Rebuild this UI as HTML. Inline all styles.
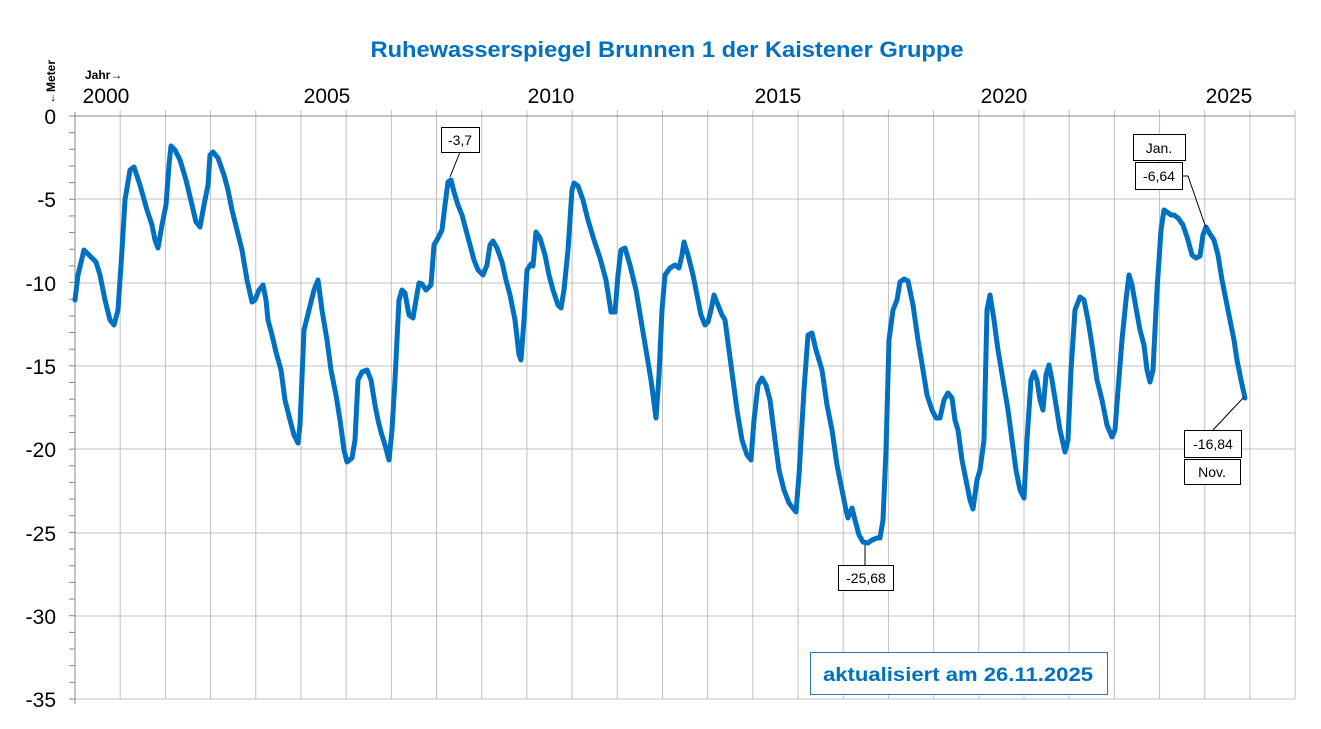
<!DOCTYPE html>
<html><head><meta charset="utf-8"><style>body{margin:0;background:#fff}svg{display:block}</style></head><body>
<svg width="1321" height="729" xmlns="http://www.w3.org/2000/svg" font-family="Liberation Sans, sans-serif">
<rect width="1321" height="729" fill="#fff"/>
<text x="667" y="57" text-anchor="middle" font-size="22" font-weight="bold" fill="#0070C0" textLength="593" lengthAdjust="spacingAndGlyphs">Ruhewasserspiegel Brunnen 1 der Kaistener Gruppe</text>
<g stroke="#c0c0c0" stroke-width="1">
<line x1="75" y1="199" x2="1295" y2="199"/><line x1="75" y1="283" x2="1295" y2="283"/><line x1="75" y1="366" x2="1295" y2="366"/><line x1="75" y1="449" x2="1295" y2="449"/><line x1="75" y1="533" x2="1295" y2="533"/><line x1="75" y1="616" x2="1295" y2="616"/><line x1="75" y1="699" x2="1295" y2="699"/>
</g>
<g id="vg" stroke="#c0c0c0" stroke-width="1"></g>
<line x1="69" y1="116" x2="1295" y2="116" stroke="#888" stroke-width="1"/>
<line x1="75" y1="112" x2="75" y2="704" stroke="#888" stroke-width="1"/>
<g id="ticks" stroke="#888" stroke-width="1"></g>
<script>
var vg=document.getElementById('vg'),tk=document.getElementById('ticks'),ns='http://www.w3.org/2000/svg';
for(var i=1;i<=27;i++){var x=75+i*45.19;var l=document.createElementNS(ns,'line');l.setAttribute('x1',x);l.setAttribute('x2',x);l.setAttribute('y1',110);l.setAttribute('y2',699);vg.appendChild(l);}
for(var j=1;j<=35;j++){var y=116+j*16.657;var l=document.createElementNS(ns,'line');l.setAttribute('x1',69);l.setAttribute('x2',75);l.setAttribute('y1',y);l.setAttribute('y2',y);tk.appendChild(l);}
</script>
<g font-size="21" fill="#000" text-anchor="end">
<text x="56" y="124">0</text><text x="56" y="207">-5</text><text x="56" y="291">-10</text><text x="56" y="374">-15</text><text x="56" y="457">-20</text><text x="56" y="541">-25</text><text x="56" y="624">-30</text><text x="56" y="707">-35</text>
</g>
<g font-size="21" fill="#000" text-anchor="middle">
<text x="106" y="103">2000</text><text x="327" y="103">2005</text><text x="551" y="103">2010</text><text x="778" y="103">2015</text><text x="1004" y="103">2020</text><text x="1229" y="103">2025</text>
</g>
<text x="85" y="79" font-size="12" font-weight="bold">Jahr→</text>
<text transform="translate(55,104) rotate(-90)" font-size="12" font-weight="bold">←Meter</text>
<polyline fill="none" stroke="#0070C0" stroke-width="5" stroke-linejoin="round" stroke-linecap="round" points="75,300 78,275 84,250 90,256 96,262 100,275 105,300 110,320 114,325 118,310 122,250 125,200 130,170 134,167 140,185 147,210 152,225 155,240 158,248 162,225 166,205 169,165 171,146 175,150 180,160 186,180 192,205 196,222 200,227 204,205 208,185 210,155 213,152 218,158 224,175 228,190 232,210 237,230 242,250 247,280 252,302 255,300 259,290 263,285 266,300 268,320 272,335 276,352 281,370 285,400 290,420 294,435 298,443 300,425 304,330 309,310 314,290 318,280 322,310 327,340 331,370 336,395 340,420 344,450 347,462 352,458 355,440 358,380 362,372 367,370 371,380 375,405 378,420 381,432 385,445 389,460 392,430 395,380 399,300 402,290 405,293 409,315 413,318 416,300 419,283 422,284 426,290 431,285 434,245 438,238 442,230 445,205 448,182 451,180 454,192 458,205 462,215 466,230 470,245 474,260 478,270 483,275 487,265 490,245 493,241 497,248 502,262 506,280 510,295 515,320 519,355 521,360 524,320 527,270 531,264 533,266 536,232 540,238 545,255 549,275 553,290 558,305 561,308 564,290 568,250 572,190 574,183 578,186 583,200 588,220 594,240 600,258 606,280 611,312 615,312 618,275 621,250 625,248 630,265 636,290 641,320 646,350 651,380 656,418 659,375 662,310 665,275 670,268 675,265 679,268 682,255 684,242 688,255 693,275 697,295 701,315 705,325 708,322 711,310 714,295 718,305 722,315 725,320 729,350 733,380 737,410 742,440 747,455 751,460 754,420 758,385 762,378 766,385 770,400 775,440 779,470 784,490 789,503 796,512 799,475 804,390 808,335 812,333 816,350 822,370 827,405 832,430 837,465 842,490 846,510 848,518 852,508 855,520 859,535 863,542 868,543 872,540 877,538 880,538 883,520 886,450 889,340 893,310 897,300 900,282 904,279 908,281 913,305 918,340 923,370 927,395 932,410 936,418 940,418 944,400 948,393 952,398 955,420 958,430 962,460 966,480 970,500 973,509 977,480 980,470 984,440 987,310 990,295 994,320 998,350 1003,380 1008,410 1012,440 1016,470 1020,490 1024,498 1027,440 1031,380 1034,372 1037,380 1040,400 1043,410 1046,375 1049,365 1052,380 1056,405 1060,430 1065,452 1068,440 1071,370 1075,310 1080,297 1084,300 1088,320 1092,345 1097,380 1102,400 1107,425 1112,437 1115,430 1118,390 1122,340 1126,300 1129,275 1132,285 1136,308 1140,330 1144,345 1147,370 1150,382 1153,370 1157,290 1161,230 1164,210 1167,212 1171,215 1174,215 1178,218 1183,225 1188,240 1192,255 1196,258 1200,256 1203,235 1206,227 1210,234 1214,240 1218,255 1222,280 1226,300 1230,320 1234,340 1237,360 1241,380 1245,398"/>
<g stroke="#000" stroke-width="1" fill="none">
<line x1="460" y1="152" x2="450" y2="177"/>
<line x1="865" y1="545" x2="865" y2="565"/>
<polyline points="1182,176 1188,176 1206,228"/>
<line x1="1213" y1="430" x2="1244" y2="397"/>
</g>
<g stroke="#000" stroke-width="1" fill="#fff">
<rect x="441.5" y="127.5" width="38" height="25"/>
<rect x="838.5" y="565.5" width="55" height="25"/>
<rect x="1133.5" y="134.5" width="52" height="26"/>
<rect x="1135.5" y="162.5" width="47" height="27"/>
<rect x="1184.5" y="430.5" width="57" height="27"/>
<rect x="1184.5" y="459.5" width="56" height="25"/>
</g>
<g font-size="14" fill="#000" text-anchor="middle">
<text x="460" y="145">-3,7</text>
<text x="866" y="583">-25,68</text>
<text x="1159" y="153">Jan.</text>
<text x="1159" y="181">-6,64</text>
<text x="1213" y="449">-16,84</text>
<text x="1212" y="477">Nov.</text>
</g>
<rect x="810.5" y="652.5" width="297" height="42" fill="#fff" stroke="#2E75B6" stroke-width="1"/>
<text x="958" y="681" text-anchor="middle" font-size="19" font-weight="bold" fill="#0070C0" textLength="270" lengthAdjust="spacingAndGlyphs">aktualisiert am 26.11.2025</text>
</svg>
</body></html>
